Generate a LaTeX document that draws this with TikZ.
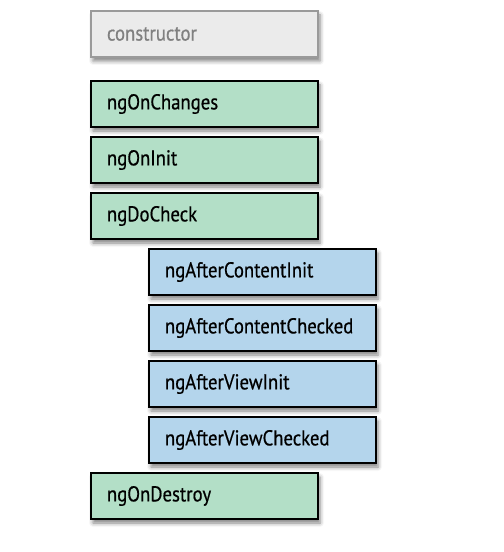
\documentclass[tikz,border=0pt]{standalone}
\usepackage{fontspec}
\setmainfont{PT Sans}[FakeStretch=0.87,FakeBold=0.6]
\usetikzlibrary{shadows.blur}
\definecolor{hookgreen}{HTML}{B3DFC7}
\definecolor{hookblue}{HTML}{B4D5EC}
\definecolor{hookgray}{HTML}{EBEBEB}
\definecolor{ctorborder}{HTML}{9A9A9A}
\definecolor{ctortext}{HTML}{808080}
\tikzset{
  hook/.style={rectangle, anchor=north west, minimum width=227bp, minimum height=46bp,
    text width=195bp, inner xsep=16bp, align=left, line width=2bp,
    font=\fontsize{21.5bp}{24bp}\selectfont,
    blur shadow={shadow xshift=2bp, shadow yshift=-4bp, shadow blur radius=4bp, shadow opacity=50}},
  greenhook/.style={hook, draw=black, fill=hookgreen},
  bluehook/.style={hook, draw=black, fill=hookblue},
  ctorhook/.style={hook, draw=ctorborder, fill=hookgray, text=ctortext},
}
\begin{document}
\begin{tikzpicture}[x=1bp,y=-1bp]
\useasboundingbox (0,0) rectangle (504,552);
\node[ctorhook] (ctor) at (90,10) {constructor};
\node[greenhook] (changes) at (90,80) {ngOnChanges};
\node[greenhook] (init) at (90,136) {ngOnInit};
\node[greenhook] (docheck) at (90,192) {ngDoCheck};
\node[bluehook] (aci) at (148,248) {ngAfterContentInit};
\node[bluehook] (acc) at (148,304) {ngAfterContentChecked};
\node[bluehook] (avi) at (148,360) {ngAfterViewInit};
\node[bluehook] (avc) at (148,416) {ngAfterViewChecked};
\node[greenhook] (destroy) at (90,472) {ngOnDestroy};
\end{tikzpicture}
\end{document}
